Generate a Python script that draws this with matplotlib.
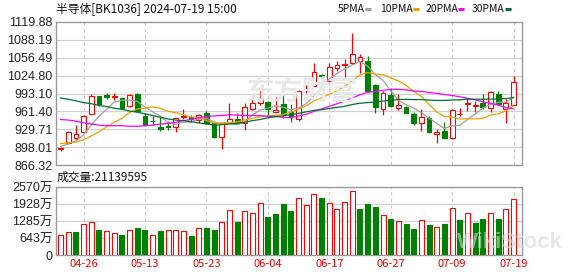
import numpy as np
import matplotlib.pyplot as plt
from matplotlib.lines import Line2D

# K线数据 (2024-04-23 .. 2024-07-19, 60个交易日)
opens = [894, 906, 915, 925, 957, 988, 990, 987, 985, 971,
         993, 954, 945, 933, 936, 933, 952, 951, 946, 958,
         940, 916, 941, 947, 940, 966, 977, 978, 961, 975,
         960, 948, 998, 1007, 1026, 1016, 1039, 1044, 1047, 1050,
         1050, 1009, 965, 990, 967, 970, 957, 941, 950, 921,
         927, 914, 956, 975, 971, 976, 968, 993, 965, 973]
highs = [899, 926, 938, 955, 992, 989, 994, 994, 986, 993,
         994, 958, 954, 951, 944, 950, 966, 955, 956, 962,
         943, 941, 977, 958, 977, 983, 999, 979, 987, 991,
         975, 999, 1008, 1048, 1028, 1047, 1051, 1054, 1101, 1063,
         1060, 1010, 997, 1002, 993, 971, 960, 965, 954, 931,
         942, 966, 967, 985, 980, 992, 997, 997, 983, 1024]
lows = [891, 903, 910, 923, 956, 971, 984, 981, 966, 970,
        961, 935, 937, 926, 929, 925, 947, 943, 940, 940,
        915, 894, 940, 939, 929, 964, 973, 955, 960, 949,
        943, 944, 994, 1006, 1014, 1015, 1033, 1023, 1046, 1029,
        997, 959, 955, 970, 963, 958, 937, 927, 923, 906,
        912, 913, 954, 962, 961, 965, 961, 975, 941, 972]
closes = [897, 925, 922, 954, 988, 974, 987, 988, 968, 991,
          962, 937, 944, 931, 933, 949, 954, 947, 955, 941,
          916, 940, 948, 943, 969, 976, 983, 965, 963, 957,
          954, 998, 1003, 1031, 1024, 1040, 1044, 1045, 1064, 1057,
          998, 969, 994, 971, 973, 959, 940, 952, 924, 925,
          915, 963, 957, 976, 972, 969, 995, 975, 977, 1014]
prev_close = 893

# 成交量 (万)
volumes = [763, 864, 864, 1164, 1252, 951, 914, 827, 763, 951,
           1027, 927, 751, 914, 951, 951, 914, 726, 1015, 1027,
           951, 1252, 1692, 1252, 1667, 1579, 1955, 1440, 1554, 1929,
           1667, 2143, 1880, 2293, 2154, 1955, 1730, 1993, 2406, 1742,
           1929, 1816, 1504, 1365, 1278, 1177, 989, 1316, 1139, 1052,
           1177, 1767, 1328, 1590, 1216, 1365, 1590, 1365, 1742, 2114]

# 均线
ma5 = [899, 904, 909, 920, 937, 952.6, 965, 978.2, 981, 981.6,
       979.2, 969.2, 960.4, 953, 941.4, 938.8, 942.2, 942.8, 947.6, 949.2,
       942.6, 939.8, 940, 937.6, 943.2, 955.2, 963.8, 967.2, 971.2, 968.8,
       964.4, 967.4, 975, 988.6, 1002, 1019.2, 1028.4, 1036.8, 1043.4, 1050,
       1041.6, 1026.6, 1016.4, 997.8, 981, 973.2, 967.4, 959, 949.6, 940,
       931.2, 935.8, 936.8, 947.2, 956.6, 967.4, 973.8, 977.4, 977.6, 986]
ma10 = [904, 906, 907, 911, 918, 925, 934, 942, 949, 959.4,
        965.9, 967.1, 969.3, 967, 961.5, 959, 955.7, 951.6, 950.3, 945.3,
        940.7, 941, 941.4, 942.6, 946.2, 948.9, 951.8, 953.6, 954.4, 956,
        959.8, 965.6, 971.1, 979.9, 985.4, 991.8, 997.9, 1005.9, 1016, 1026,
        1030.4, 1027.5, 1026.6, 1020.6, 1015.5, 1007.4, 997, 987.7, 973.7, 960.5,
        952.2, 951.6, 947.9, 948.4, 948.3, 949.3, 954.8, 957.1, 962.4, 971.3]
ma20 = [947, 946, 944, 941, 939, 937, 936, 936, 936, 935,
        935, 936, 937, 939, 940, 942, 945, 947, 950, 952.4,
        953.3, 954.1, 955.4, 954.8, 953.9, 954, 953.8, 952.6, 952.4, 950.7,
        950.3, 953.3, 956.3, 961.3, 965.8, 970.4, 974.9, 979.8, 985.2, 991,
        995.1, 996.6, 998.9, 1000.3, 1000.5, 999.6, 997.5, 996.8, 994.9, 993.3,
        991.3, 989.6, 987.3, 984.5, 981.9, 978.4, 975.9, 972.4, 968.1, 965.9]
ma30 = [985, 983, 980, 977, 975, 972, 970, 967, 965, 962,
        960, 957, 954, 951, 948, 946, 945, 943, 941, 939,
        937, 938, 939, 940, 942, 945, 947, 950, 952, 953.6,
        955.5, 957.9, 960.6, 963.2, 964.4, 966.6, 968.5, 970.4, 973.6, 975.8,
        977, 978, 979.7, 981, 982.4, 982.7, 982.2, 982.4, 981.4, 980.8,
        980.8, 981.6, 981.9, 983, 983.1, 982.8, 983.2, 983.6, 984, 985.9]

date_idx = [3, 11, 19, 27, 35, 43, 51, 59]
date_labels = ['04-26', '05-13', '05-23', '06-04', '06-17', '06-27', '07-09', '07-19']
price_ticks = [866.32, 898.01, 929.71, 961.40, 993.10, 1024.80, 1056.49, 1088.19, 1119.88]
vol_ticks = [0, 643, 1285, 1928, 2570]

RED = '#ff0000'
GREEN = '#008000'
ma_colors = ['#a0a0a0', '#f0a000', '#ff00ff', '#006f30']
cjk = ['Noto Sans CJK SC', 'DejaVu Sans']
num_font = ['Liberation Sans', 'Noto Sans CJK SC']

x = np.arange(len(closes))
o = np.array(opens, float)
c = np.array(closes, float)
h = np.array(highs, float)
l = np.array(lows, float)
up = c >= o
vol_up = c >= np.concatenate([[prev_close], c[:-1]])

fig = plt.figure(figsize=(5.78, 2.76), dpi=100)
W, H = 578, 276
ax = fig.add_axes([56 / W, 1 - 165 / H, 466 / W, 143 / H])
axv = fig.add_axes([56 / W, 1 - 255 / H, 466 / W, 68 / H])

for a in (ax, axv):
    a.set_xlim(-0.59, 60.1)
    for s in a.spines.values():
        s.set_color('#999999')
        s.set_linewidth(1.0)
    a.tick_params(length=0, colors='#222222', labelsize=9)
    for xi in date_idx:
        a.axvline(xi, color='#c8c8c8', lw=0.8, ls=(0, (3, 3)), zorder=0)

# 水印
fig.text(302 / W, 1 - 92 / H, '东方财富', family=cjk, fontsize=20, weight='bold',
         color='#e8e8e8', ha='center', va='center', zorder=0)

# 价格
ax.set_ylim(866.32, 1119.88)
ax.set_yticks(price_ticks)
ax.set_yticklabels([f'{t:.2f}' for t in price_ticks], family=num_font)
for t in price_ticks[1:-1]:
    ax.axhline(t, color='#d0d0d0', lw=0.9, zorder=0)
ax.set_xticks([])
ax.tick_params(axis='y', pad=2.5)

ax.vlines(x, l, h, colors=np.where(up, RED, GREEN), lw=0.9, zorder=2)
body_h = np.maximum(np.abs(c - o), 0.6)
body_b = np.minimum(o, c)
ax.bar(x[up], body_h[up], 0.62, body_b[up], facecolor='white', edgecolor=RED, lw=0.8, zorder=3)
ax.bar(x[~up], body_h[~up], 0.62, body_b[~up], facecolor=GREEN, edgecolor=GREEN, lw=0.8, zorder=3)

for ma, col in zip([ma5, ma10, ma20, ma30], ma_colors):
    ax.plot(x, ma, color=col, lw=0.9, zorder=4)

# 成交量
axv.set_ylim(0, 2570)
axv.set_yticks(vol_ticks)
axv.set_yticklabels(['0'] + [f'{t}万' for t in vol_ticks[1:]], family=num_font)
for t in vol_ticks[1:-1]:
    axv.axhline(t, color='#d0d0d0', lw=0.9, zorder=0)
axv.tick_params(axis='y', pad=2.5)
v = np.array(volumes, float)
axv.bar(x[vol_up], v[vol_up], 0.65, facecolor='white', edgecolor=RED, lw=0.8, zorder=3)
axv.bar(x[~vol_up], v[~vol_up], 0.65, facecolor=GREEN, edgecolor=GREEN, lw=0.8, zorder=3)
axv.set_xticks(date_idx)
axv.set_xticklabels(date_labels, color=RED, family=cjk, fontsize=8)
axv.tick_params(axis='x', pad=3, colors=RED)

fig.text(457 / W, 1 - 242 / H, 'WikiStock', family='Liberation Sans', weight='bold',
         fontsize=16, color='#d8d8d8', alpha=0.6, va='center', zorder=10)

# 标题和图例
fig.text(56 / W, 1 - 8.5 / H, '半导体[BK1036] 2024-07-19 15:00', family=cjk,
         fontsize=8.5, va='center', color='#111111')
fig.text(57 / W, 1 - 177 / H, '成交量:21139595', family=cjk, fontsize=8.5,
         va='center', color='#111111')
legend_items = [('5PMA', 338, 365), ('10PMA', 380, 413), ('20PMA', 426, 458), ('30PMA', 472, 505)]
for (name, tx, lx), col in zip(legend_items, ma_colors):
    fig.text(tx / W, 1 - 8.5 / H, name, family=cjk, fontsize=7.5, va='center', color='#111111')
    fig.add_artist(Line2D([lx / W, (lx + 6) / W], [1 - 8.5 / H, 1 - 8.5 / H],
                          transform=fig.transFigure, color=col, lw=2.2, solid_capstyle='butt'))

fig.savefig('out.png', dpi=100)
